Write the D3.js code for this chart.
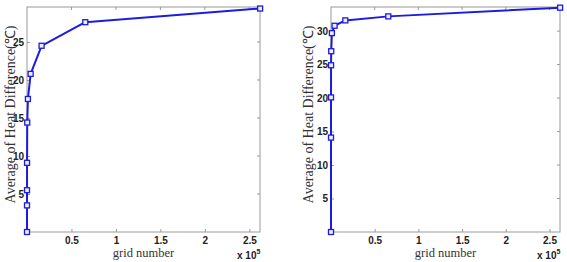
<!DOCTYPE html>
<html>
<head>
<meta charset="utf-8">
<script src="https://cdn.jsdelivr.net/npm/d3@7"></script>
<style>
  body { margin: 0; background: #fff; }
  svg { display: block; }
  .tick text { font-family: "Liberation Sans", Arial, sans-serif; font-weight: bold; font-size: 10px; fill: #222; }
</style>
</head>
<body>
<svg id="chart" width="567" height="262"></svg>
<script>
// grid number of each run (same for both panels)
const gridNumbers = [1, 4, 16, 64, 256, 1024, 4096, 16384, 65536, 262144];
// average heat difference, left and right panels
const leftValues = [0, 3.5, 5.5, 9.1, 14.4, 17.5, 20.8, 24.5, 27.6, 29.4];
const rightValues = [0, 14.1, 20.1, 24.9, 27.0, 29.7, 30.8, 31.6, 32.2, 33.5];
const xTicks = [0.5e5, 1e5, 1.5e5, 2e5, 2.5e5];
const leftYTicks = [5, 10, 15, 20, 25];
const rightYTicks = [5, 10, 15, 20, 25, 30];

const svg = d3.select('#chart');
const blue = '#1c1ce0';
const axisGray = '#9a9a9a';

function drawPanel(values, yMax, yTicks, box, labelX) {
  const g = svg.append('g');

  const x = d3.scaleLinear().domain([0, 2.62e5]).range([box.left, box.right]);
  const y = d3.scaleLinear().domain([0, yMax]).range([box.bottom, box.top]);

  // frame
  g.append('rect')
    .attr('x', box.left).attr('y', box.top)
    .attr('width', box.right - box.left).attr('height', box.bottom - box.top)
    .attr('fill', 'none').attr('stroke', axisGray).attr('stroke-width', 1);

  // axes with inward ticks
  const xAxis = d3.axisBottom(x).tickValues(xTicks)
    .tickFormat(d => d3.format('~g')(d / 1e5))
    .tickSizeInner(-3).tickSizeOuter(0).tickPadding(5);
  const xg = g.append('g').attr('transform', `translate(0,${box.bottom})`).call(xAxis);

  const yAxis = d3.axisLeft(y).tickValues(yTicks)
    .tickSizeInner(-3).tickSizeOuter(0).tickPadding(3);
  const yg = g.append('g').attr('transform', `translate(${box.left},0)`).call(yAxis);

  [xg, yg].forEach(a => {
    a.select('.domain').remove();
    a.selectAll('.tick line').attr('stroke', axisGray);
  });

  // top/right ticks
  g.append('g').selectAll('line').data(xTicks).enter().append('line')
    .attr('x1', d => x(d)).attr('x2', d => x(d))
    .attr('y1', box.top).attr('y2', box.top + 3).attr('stroke', axisGray);
  g.append('g').selectAll('line').data(yTicks).enter().append('line')
    .attr('x1', box.right).attr('x2', box.right - 3)
    .attr('y1', d => y(d)).attr('y2', d => y(d)).attr('stroke', axisGray);

  const line = d3.line().x((d, i) => x(gridNumbers[i])).y(d => y(d));
  g.append('path').datum(values)
    .attr('d', line).attr('fill', 'none')
    .attr('stroke', blue).attr('stroke-width', 2).attr('stroke-linejoin', 'round');

  g.selectAll('.mk').data(values).enter().append('rect')
    .attr('class', 'mk')
    .attr('x', (d, i) => x(gridNumbers[i]) - 2.5)
    .attr('y', d => y(d) - 2.5)
    .attr('width', 5).attr('height', 5)
    .attr('fill', '#eef').attr('stroke', blue).attr('stroke-width', 1.3);

  // axis titles
  g.append('text')
    .attr('x', (box.left + box.right) / 2).attr('y', 257)
    .attr('text-anchor', 'middle')
    .style('font-family', '"Liberation Serif", "Times New Roman", serif')
    .style('font-size', '12.5px').style('fill', '#333')
    .text('grid number');

  g.append('text')
    .attr('transform', `translate(${labelX},${(box.top + box.bottom) / 2 - 5}) rotate(-90)`)
    .attr('text-anchor', 'middle')
    .style('font-family', '"Liberation Serif", "Times New Roman", serif')
    .style('font-size', '14px').style('fill', '#333')
    .text('Average of Heat Difference(℃)');

  const mult = g.append('text')
    .attr('x', box.right - 23).attr('y', 259)
    .style('font-family', '"Liberation Sans", Arial, sans-serif')
    .style('font-weight', 'bold').style('font-size', '10px').style('fill', '#222');
  mult.append('tspan').text('x 10');
  mult.append('tspan').attr('dy', -5).style('font-size', '7px').text('5');
}

drawPanel(leftValues, 29.6, leftYTicks, { left: 27, right: 260, top: 7, bottom: 232 }, 15);
drawPanel(rightValues, 33.6, rightYTicks, { left: 331, right: 560, top: 7, bottom: 232 }, 313);
</script>
</body>
</html>
